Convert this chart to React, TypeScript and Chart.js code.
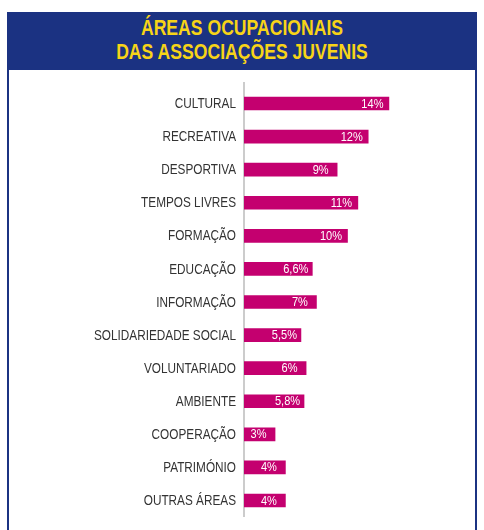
import React, { useEffect, useRef } from "react";
import { Chart, registerables } from "chart.js";

Chart.register(...registerables);

const TITLE_LINES = ["ÁREAS OCUPACIONAIS", "DAS ASSOCIAÇÕES JUVENIS"];
const categories = [
  "CULTURAL",
  "RECREATIVA",
  "DESPORTIVA",
  "TEMPOS LIVRES",
  "FORMAÇÃO",
  "EDUCAÇÃO",
  "INFORMAÇÃO",
  "SOLIDARIEDADE SOCIAL",
  "VOLUNTARIADO",
  "AMBIENTE",
  "COOPERAÇÃO",
  "PATRIMÓNIO",
  "OUTRAS ÁREAS",
];
const values = [14, 12, 9, 11, 10, 6.6, 7, 5.5, 6, 5.8, 3, 4, 4];
const valueLabels = ["14%", "12%", "9%", "11%", "10%", "6,6%", "7%", "5,5%", "6%", "5,8%", "3%", "4%", "4%"];

const FONT = "'Liberation Sans', Arial, sans-serif";
const BLUE = "#1b3282";
const YELLOW = "#f7d417";
const MAGENTA = "#c4006f";

// draw text horizontally compressed (condensed look)
function drawNarrow(ctx: any, text: string, x: number, y: number, sx: number, align: string) {
  ctx.save();
  ctx.translate(x, y);
  ctx.scale(sx, 1);
  ctx.textAlign = align;
  ctx.fillText(text, 0, 0);
  ctx.restore();
}

const labelPlugin = {
  id: "narrowLabels",
  afterDatasetsDraw(chart: any) {
    const ctx = chart.ctx;
    const yScale = chart.scales.y;
    const left = chart.chartArea.left;
    ctx.save();
    ctx.textBaseline = "middle";
    // category labels
    ctx.fillStyle = "#333333";
    ctx.font = `15px ${FONT}`;
    categories.forEach((c, i) => {
      drawNarrow(ctx, c, left - 8, yScale.getPixelForTick(i) + 0.5, 0.785, "right");
    });
    // value labels
    const meta = chart.getDatasetMeta(0);
    ctx.fillStyle = "#ffffff";
    ctx.font = `13px ${FONT}`;
    meta.data.forEach((bar: any, i: number) => {
      drawNarrow(ctx, valueLabels[i], bar.x - 16.5, bar.y + 0.5, 0.85, "center");
    });
    ctx.restore();
  },
};

const axisLinePlugin = {
  id: "axisLine",
  beforeDatasetsDraw(chart: any) {
    const { ctx, chartArea } = chart;
    ctx.save();
    ctx.strokeStyle = "#cccccc";
    ctx.lineWidth = 2;
    ctx.beginPath();
    ctx.moveTo(chartArea.left, chartArea.top - 5);
    ctx.lineTo(chartArea.left, chartArea.bottom);
    ctx.stroke();
    ctx.restore();
  },
};

export default function App() {
  const ref = useRef<HTMLCanvasElement | null>(null);
  useEffect(() => {
    if (!ref.current) return;
    const chart = new Chart(ref.current, {
      type: "bar",
      data: {
        labels: categories,
        datasets: [
          {
            data: values,
            backgroundColor: MAGENTA,
            barThickness: 13,
          },
        ],
      },
      options: {
        indexAxis: "y",
        animation: false,
        responsive: false,
        maintainAspectRatio: false,
        layout: { padding: { top: 17, bottom: 13, left: 0, right: 23 } },
        plugins: { legend: { display: false }, tooltip: { enabled: false } },
        scales: {
          x: { display: false, min: 0, max: 20 },
          y: {
            grid: { display: false, drawTicks: false },
            border: { display: false },
            ticks: { display: false },
            afterFit(scale: any) {
              scale.width = 235;
            },
          },
        },
      },
      plugins: [axisLinePlugin, labelPlugin],
    });
    return () => chart.destroy();
  }, []);

  return (
    <div style={{ position: "fixed", left: 0, top: 0, width: 484, height: 530, background: "#fff", overflow: "hidden" }}>
      <div
        style={{
          position: "absolute",
          left: 7,
          top: 12,
          width: 470,
          height: 540,
          boxSizing: "border-box",
          border: `2px solid ${BLUE}`,
        }}
      />
      <div
        style={{
          position: "absolute",
          left: 7,
          top: 12,
          width: 470,
          height: 58,
          background: BLUE,
          color: YELLOW,
          fontFamily: FONT,
          fontWeight: "bold",
          fontSize: 22,
          lineHeight: "24px",
          textAlign: "center",
          paddingTop: 4,
          boxSizing: "border-box",
        }}
      >
        {TITLE_LINES.map((t) => (
          <div key={t} style={{ transform: "scaleX(0.8)", transformOrigin: "center", whiteSpace: "nowrap" }}>
            {t}
          </div>
        ))}
      </div>
      <canvas ref={ref} width={465} height={460} style={{ position: "absolute", left: 9, top: 70, width: 465, height: 460 }} />
    </div>
  );
}
